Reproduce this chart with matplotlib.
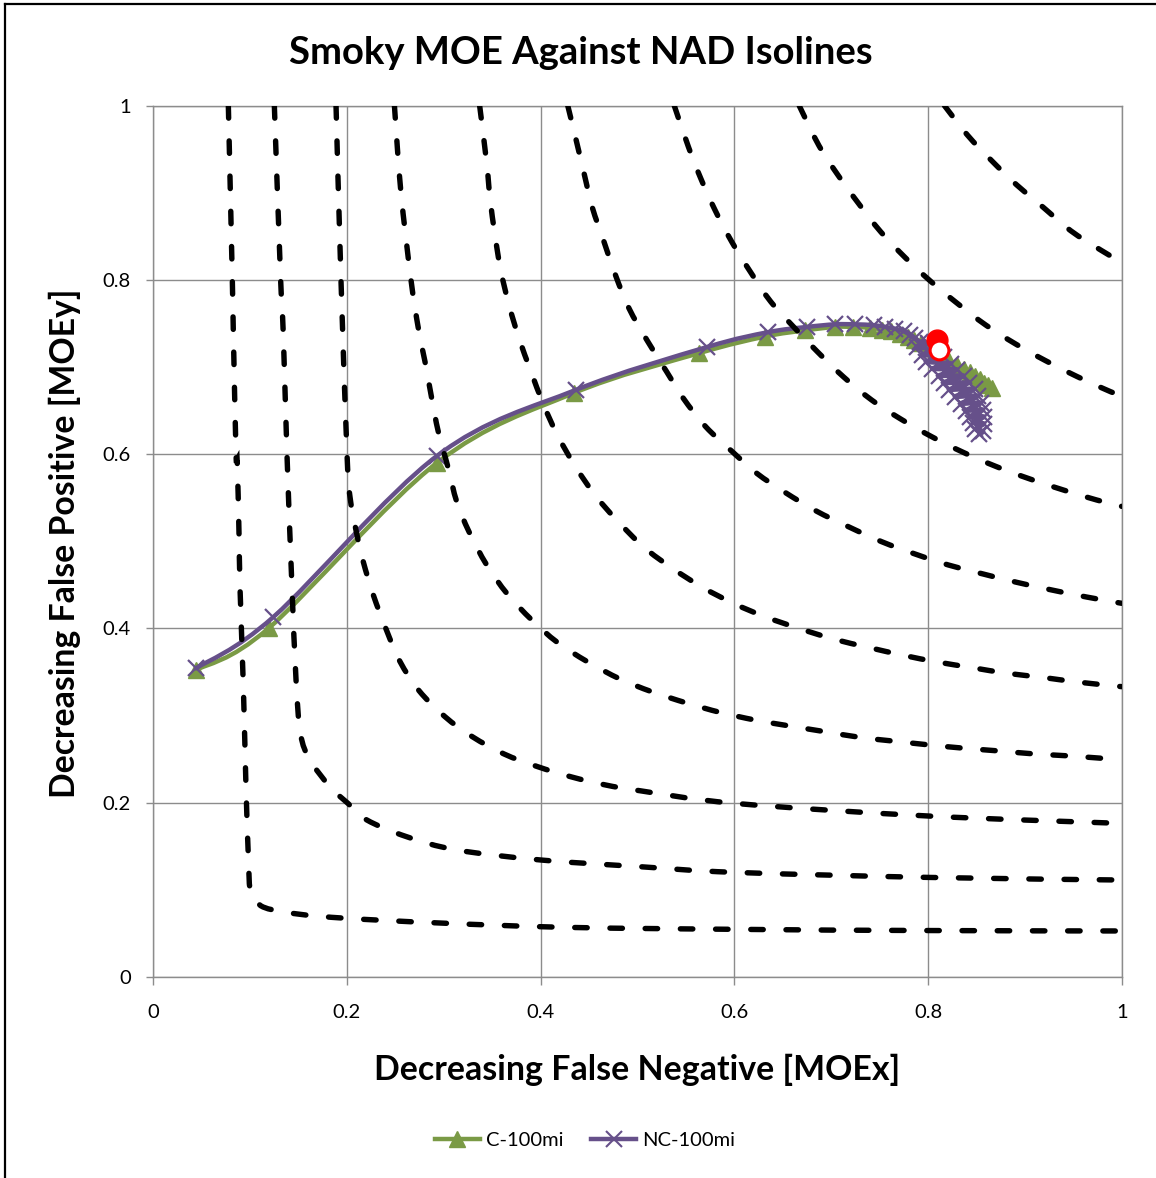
import numpy as np
import matplotlib
matplotlib.use("Agg")
import matplotlib.pyplot as plt
from matplotlib.path import Path
from matplotlib.patches import PathPatch
from matplotlib.lines import Line2D

plt.rcParams['font.family'] = ['Lato', 'DejaVu Sans']

# ---------------- text ----------------
title = "Smoky MOE Against NAD Isolines"
x_label = "Decreasing False Negative [MOEx]"
y_label = "Decreasing False Positive [MOEy]"
tick_vals = [0, 0.2, 0.4, 0.6, 0.8, 1.0]
tick_labels = ["0", "0.2", "0.4", "0.6", "0.8", "1"]
series_names = ["C-100mi", "NC-100mi"]

# ---------------- data series ----------------
c_x = [0.044, 0.119, 0.293, 0.434, 0.564, 0.632, 0.673, 0.704, 0.723, 0.740,
       0.752, 0.762, 0.771, 0.779, 0.786, 0.793, 0.800, 0.807, 0.815, 0.822,
       0.830, 0.837, 0.843, 0.849, 0.854, 0.858, 0.862, 0.866]
c_y = [0.352, 0.400, 0.590, 0.670, 0.716, 0.735, 0.742, 0.746, 0.746, 0.745,
       0.743, 0.741, 0.738, 0.735, 0.731, 0.727, 0.722, 0.717, 0.712, 0.707,
       0.702, 0.698, 0.694, 0.690, 0.686, 0.682, 0.679, 0.676]

nc_x = [0.044, 0.124, 0.293, 0.437, 0.572, 0.635, 0.675, 0.704, 0.725, 0.744,
        0.756, 0.766, 0.775, 0.781, 0.787, 0.792, 0.800, 0.789, 0.810, 0.794,
        0.817, 0.798, 0.824, 0.804, 0.830, 0.811, 0.837, 0.816, 0.842, 0.822,
        0.848, 0.828, 0.852, 0.834, 0.855, 0.839, 0.857, 0.843, 0.858, 0.846,
        0.858, 0.849, 0.857, 0.853]
nc_y = [0.354, 0.413, 0.598, 0.674, 0.723, 0.740, 0.746, 0.749, 0.749, 0.748,
        0.746, 0.744, 0.741, 0.737, 0.733, 0.729, 0.727, 0.723, 0.719, 0.714,
        0.712, 0.706, 0.704, 0.698, 0.697, 0.690, 0.690, 0.682, 0.682, 0.674,
        0.675, 0.666, 0.667, 0.658, 0.659, 0.650, 0.651, 0.643, 0.643, 0.636,
        0.635, 0.629, 0.626, 0.623]

ref_filled_x = [0.809]
ref_filled_y = [0.731]
ref_open_x = [0.8117]
ref_open_y = [0.7195]

# ---------------- NAD isolines ----------------
iso_a_x = [0.0775, 0.0816, 0.0826, 0.0854, 0.0867, 0.0885, 0.0895, 0.093, 0.0957, 0.098,
           0.0999, 0.105, 0.124, 0.2, 0.4, 0.6, 0.8, 1.0]
iso_a_y = [1.0, 0.80, 0.7425, 0.601, 0.5894, 0.509, 0.4478, 0.333, 0.218, 0.142,
           0.0995, 0.088, 0.0766, 0.067, 0.0574, 0.0544, 0.053, 0.0525]

iso_b_x = [0.125, 0.1315, 0.1342, 0.138, 0.1429, 0.1474, 0.152, 0.1618, 0.1825, 0.201,
           0.2204, 0.2617, 0.3133, 0.4, 0.5026, 0.6, 0.8, 1.0]
iso_b_y = [1.0, 0.80, 0.7387, 0.601, 0.4555, 0.3406, 0.279, 0.249, 0.218, 0.199,
           0.18, 0.1607, 0.1455, 0.134, 0.1263, 0.1198, 0.114, 0.111]

iso_c_x = [0.1887, 0.1938, 0.200, 0.2031, 0.210, 0.2168, 0.2272, 0.241, 0.2548, 0.2744,
           0.3012, 0.3295, 0.3622, 0.3959, 0.432, 0.4671, 0.5026, 0.6007, 0.80, 1.0]
iso_c_y = [1.0, 0.80, 0.601, 0.551, 0.509, 0.4765, 0.4382, 0.3973, 0.3617, 0.3284,
           0.2985, 0.2755, 0.2557, 0.2415, 0.2293, 0.2201, 0.2135, 0.199, 0.1845, 0.176]

iso_d_x = [0.249, 0.2555, 0.2661, 0.2737, 0.2806, 0.2875, 0.2943, 0.3046, 0.3133, 0.326,
           0.3443, 0.3656, 0.3907, 0.4172, 0.4482, 0.4819, 0.5147, 0.5508, 0.5852, 0.6213,
           0.6575, 0.6936, 0.7298, 0.766, 0.8022, 0.8383, 0.8743, 0.9105, 0.9473, 1.0]
iso_d_y = [1.0, 0.903, 0.80, 0.7444, 0.706, 0.664, 0.6257, 0.5837, 0.5454, 0.5109,
           0.4727, 0.4394, 0.4097, 0.3839, 0.3617, 0.3418, 0.3272, 0.3142, 0.3035, 0.2947,
           0.2878, 0.2813, 0.2748, 0.2703, 0.266, 0.2622, 0.2591, 0.2557, 0.2534, 0.249]

iso_e_x = [0.337, 0.3443, 0.3477, 0.3528, 0.3587, 0.3673, 0.3776, 0.3897, 0.4027, 0.4172,
           0.4355, 0.4561, 0.4785, 0.5067, 0.536, 0.5669, 0.5997, 0.6324, 0.6678, 0.7022,
           0.7383, 0.7745, 0.8096, 0.8457, 0.8819, 0.918, 0.9542, 1.0]
iso_e_y = [1.0, 0.9338, 0.8937, 0.8515, 0.8114, 0.7712, 0.733, 0.6957, 0.6575, 0.622,
           0.5863, 0.553, 0.5243, 0.493, 0.4689, 0.4471, 0.4283, 0.413, 0.3995, 0.3877,
           0.3781, 0.369, 0.3613, 0.3548, 0.3483, 0.3437, 0.3383, 0.333]

iso_f_x = [0.428, 0.4362, 0.4448, 0.4533, 0.4654, 0.4775, 0.4912, 0.5101, 0.5301, 0.5473,
           0.5704, 0.5979, 0.6231, 0.6523, 0.684, 0.7177, 0.7522, 0.7866, 0.821, 0.8571,
           0.8916, 0.9277, 0.9638, 1.0]
iso_f_y = [1.0, 0.9626, 0.9224, 0.8833, 0.8438, 0.8048, 0.7674, 0.7302, 0.6946, 0.6641,
           0.6315, 0.6028, 0.578, 0.5561, 0.535, 0.5167, 0.4994, 0.4853, 0.4727, 0.4623,
           0.4528, 0.444, 0.4359, 0.4287]

iso_g_x = [0.538, 0.5525, 0.5653, 0.58, 0.5973, 0.6169, 0.6376, 0.6616, 0.6857, 0.7125,
           0.7418, 0.7718, 0.8038, 0.8364, 0.8709, 0.9053, 0.9397, 0.9742, 1.0]
iso_g_y = [1.0, 0.953, 0.9166, 0.8803, 0.8438, 0.8087, 0.775, 0.7456, 0.7176, 0.6889,
           0.6621, 0.6403, 0.62, 0.602, 0.5855, 0.5714, 0.5588, 0.5473, 0.54]

iso_h_x = [0.667, 0.6874, 0.7074, 0.7287, 0.7511, 0.7762, 0.802, 0.8302, 0.8596, 0.8905,
           0.9215, 0.9542, 0.9886, 1.0]
iso_h_y = [1.0, 0.9541, 0.9197, 0.8871, 0.8553, 0.8259, 0.7991, 0.7731, 0.7482, 0.7264,
           0.7072, 0.6889, 0.6716, 0.667]

iso_i_x = [0.817, 0.8406, 0.8657, 0.8916, 0.919, 0.9473, 0.9783, 1.0]
iso_i_y = [1.0, 0.9664, 0.9369, 0.909, 0.8833, 0.8565, 0.8343, 0.82]

isolines = [(iso_a_x, iso_a_y), (iso_b_x, iso_b_y), (iso_c_x, iso_c_y),
            (iso_d_x, iso_d_y), (iso_e_x, iso_e_y), (iso_f_x, iso_f_y),
            (iso_g_x, iso_g_y), (iso_h_x, iso_h_y), (iso_i_x, iso_i_y)]

# ---------------- styles ----------------
GREEN = "#7A9A45"
PURPLE = "#66508A"
GRID = "#8C8C8C"


def smooth_path(xs, ys):
    """Excel-like smoothed line: cubic Bezier segments through the points."""
    P = np.column_stack([xs, ys]).astype(float)
    n = len(P)
    verts = [P[0]]
    codes = [Path.MOVETO]
    for i in range(n - 1):
        p0 = P[i - 1] if i > 0 else P[i]
        p1 = P[i]
        p2 = P[i + 1]
        p3 = P[i + 2] if i + 2 < n else P[i + 1]
        verts += [p1 + (p2 - p0) / 6.0, p2 - (p3 - p1) / 6.0, p2]
        codes += [Path.CURVE4] * 3
    return Path(verts, codes)


W, H = 1156, 1178
fig = plt.figure(figsize=(W / 100, H / 100), dpi=100)
ax = fig.add_axes([153.3 / W, 1 - 976.7 / H, (1121.7 - 153.3) / W, (976.7 - 105.7) / H])
ax.set_xlim(0, 1)
ax.set_ylim(0, 1)

# grid
ax.set_xticks(tick_vals)
ax.set_yticks(tick_vals)
ax.set_xticklabels(tick_labels)
ax.set_yticklabels(tick_labels)
ax.grid(True, color=GRID, lw=1.0, zorder=0)
ax.set_axisbelow(True)
for s in ax.spines.values():
    s.set_color(GRID)
    s.set_linewidth(1.0)
ax.tick_params(axis='x', direction='out', length=5.5, width=1.0, color=GRID,
               labelsize=14.5, pad=14)
ax.tick_params(axis='y', direction='out', length=5, width=1.0, color=GRID,
               labelsize=14.5, pad=11)

# data lines (smoothed)
ax.add_patch(PathPatch(smooth_path(c_x, c_y), facecolor='none', edgecolor=GREEN,
                       lw=3.2, zorder=2, capstyle='round', joinstyle='round'))
ax.plot(c_x, c_y, linestyle='none', marker='^', ms=12, color=GREEN,
        markeredgecolor=GREEN, zorder=2.2)
ax.add_patch(PathPatch(smooth_path(nc_x, nc_y), facecolor='none', edgecolor=PURPLE,
                       lw=3.2, zorder=2.4, capstyle='round', joinstyle='round'))
ax.plot(nc_x, nc_y, linestyle='none', marker='x', ms=12, mew=1.6, color=PURPLE,
        zorder=2.6)

# isolines
for xs, ys in isolines:
    ax.add_patch(PathPatch(smooth_path(xs, ys), facecolor='none', edgecolor='black',
                           lw=3.9, linestyle=(0, (2.3, 4.2)), capstyle='round',
                           zorder=4))

# reference markers
ax.plot(ref_filled_x, ref_filled_y, linestyle='none', marker='o', ms=15,
        color='#FF0000', markeredgecolor='#FF0000', zorder=6)
ax.plot(ref_open_x, ref_open_y, linestyle='none', marker='o', ms=13.5,
        markerfacecolor='white', markeredgecolor='#FF0000', mew=2.2, zorder=7)

# texts
fig.text(581 / W, 1 - 53 / H, title, ha='center', va='center',
         fontsize=27.5, fontweight='bold')
fig.text(637 / W, 1 - 1070 / H, x_label, ha='center', va='center',
         fontsize=24.4, fontweight='bold')
fig.text(65 / W, 1 - 543 / H, y_label, ha='center', va='center', rotation=90,
         fontsize=24.3, fontweight='bold')

# legend
handles = [Line2D([], [], color=GREEN, lw=3.2, marker='^', ms=11),
           Line2D([], [], color=PURPLE, lw=3.2, marker='x', ms=11, mew=1.5)]
fig.legend(handles, series_names, loc='center', bbox_to_anchor=(585 / W, 1 - 1140 / H),
           ncol=2, frameon=False, fontsize=14.5, handlelength=2.2, columnspacing=1.4,
           handletextpad=0.3)

# outer chart border (left and top edges visible)
fig.add_artist(Line2D([5 / W, 5 / W], [-0.01, 1 - 4 / H], color='black', lw=1.6,
                      transform=fig.transFigure))
fig.add_artist(Line2D([5 / W, 1.01], [1 - 4 / H, 1 - 4 / H], color='black', lw=1.6,
                      transform=fig.transFigure))

fig.savefig("out.png", dpi=100)
